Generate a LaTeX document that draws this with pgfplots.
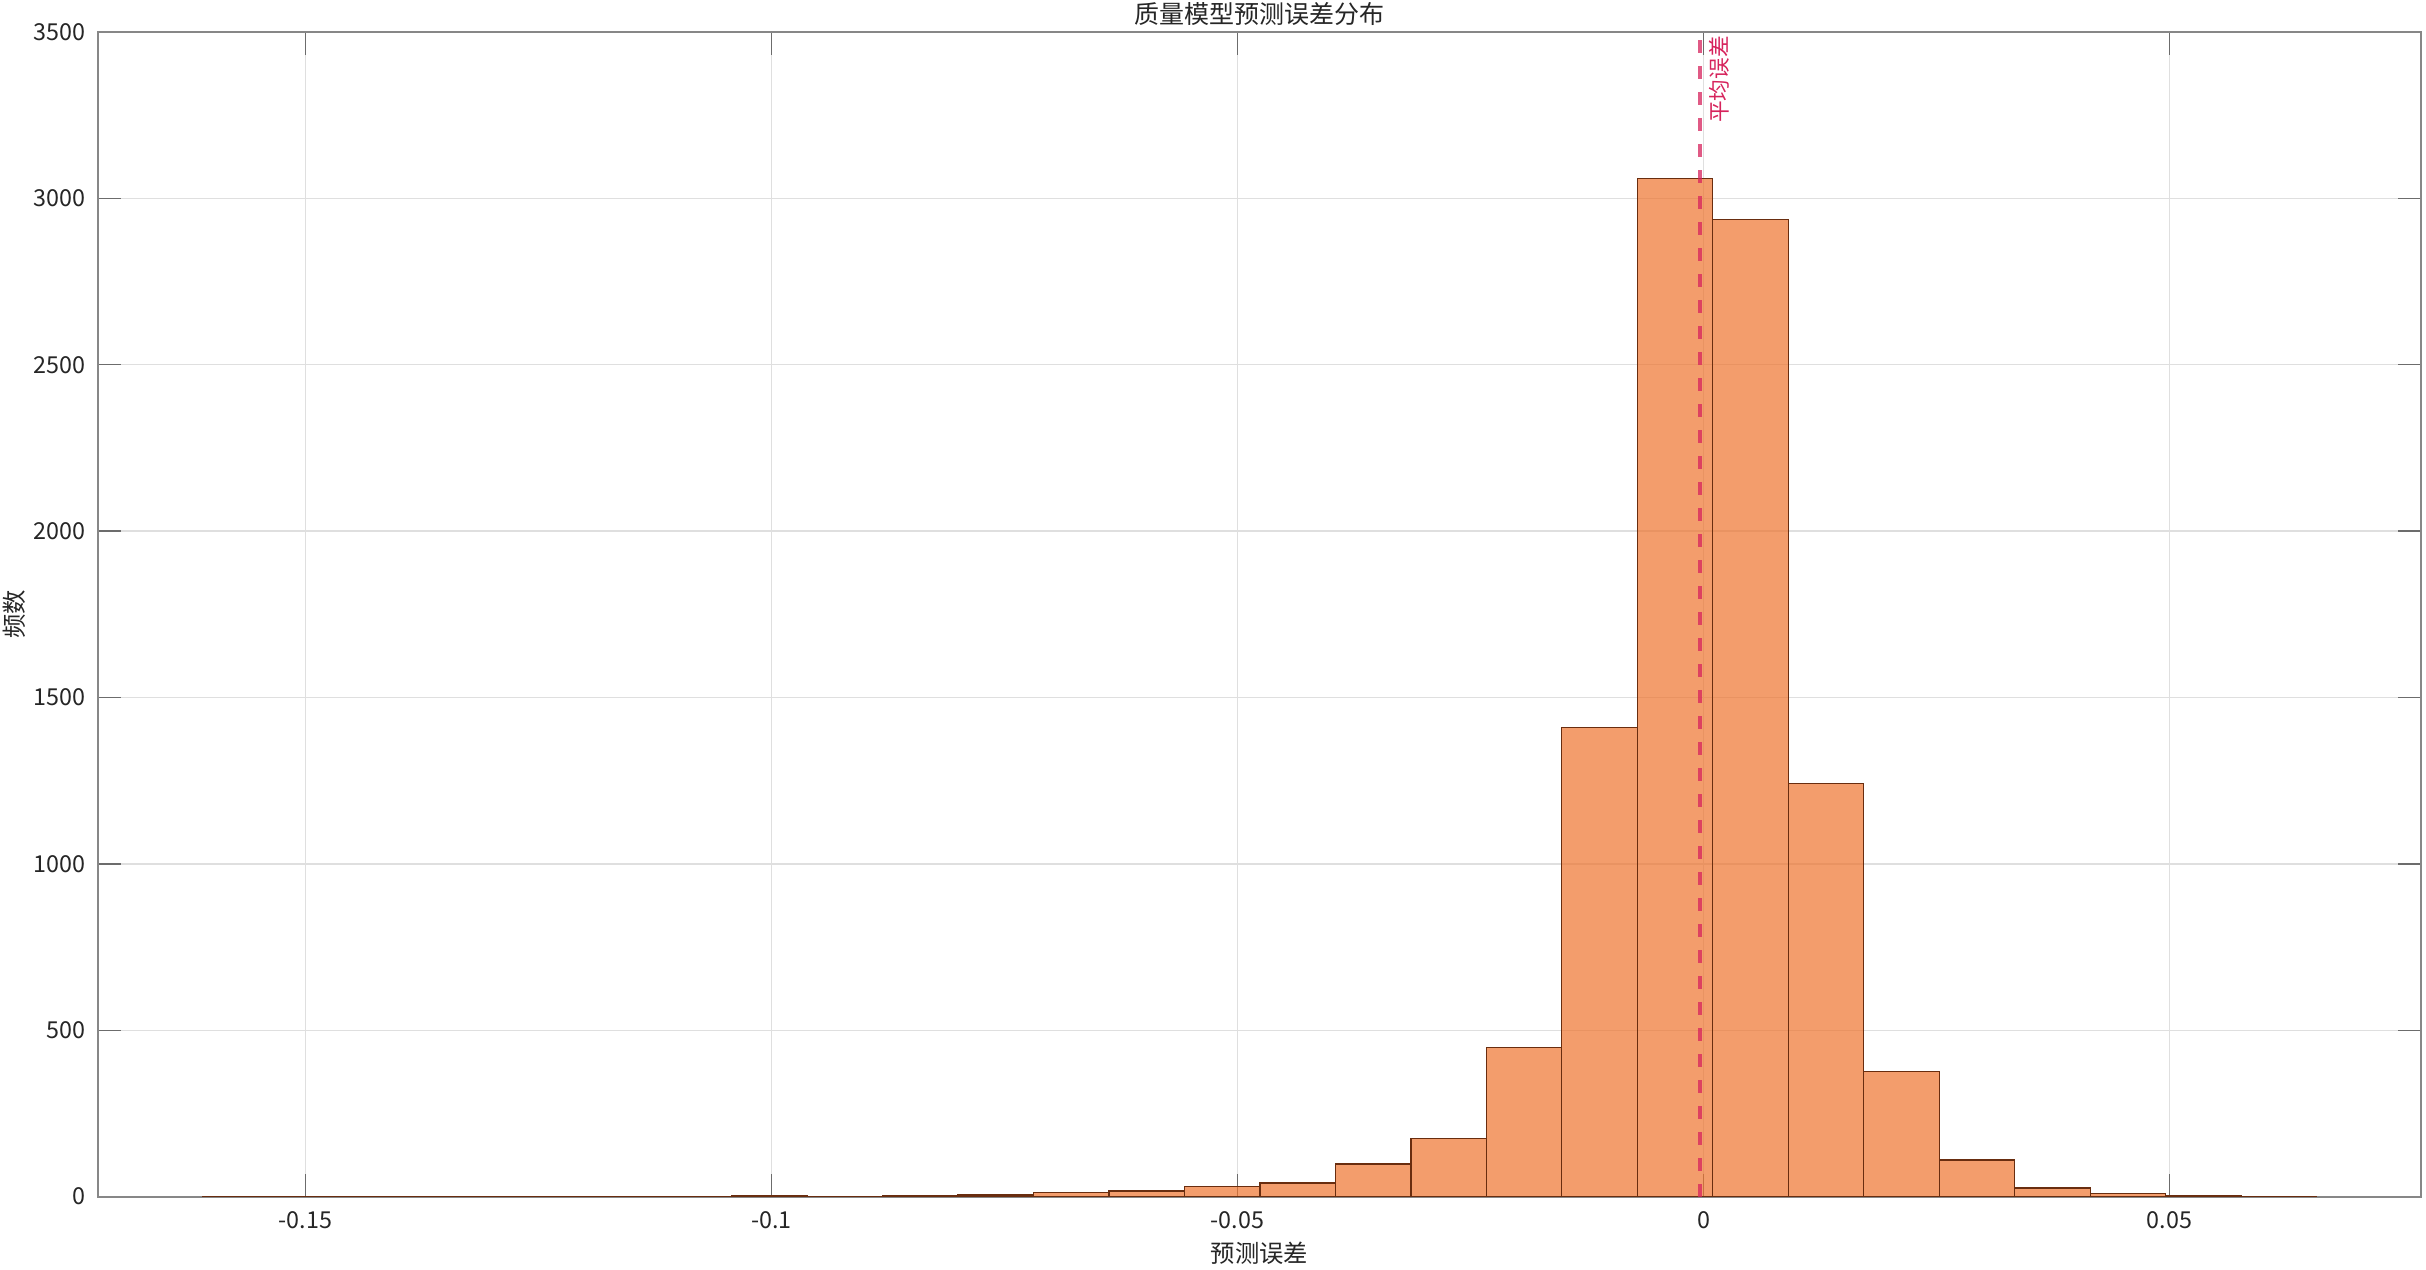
\documentclass[border=0pt]{standalone}
\usepackage{fontspec}
\setmainfont{Noto Sans CJK SC}
\usepackage{pgfplots}
\pgfplotsset{compat=1.18}

\definecolor{barfill}{RGB}{238,116,45}
\definecolor{baredge}{RGB}{105,45,15}
\definecolor{meanc}{RGB}{214,35,92}
\definecolor{gridc}{RGB}{223,223,223}
\definecolor{axisc}{RGB}{135,135,135}
\definecolor{textc}{RGB}{38,38,38}

\begin{document}
\begin{tikzpicture}
% page = reference canvas (1 px = 0.3pt)
\useasboundingbox (-29.4pt,-21.7pt) rectangle (698.4pt,359.0pt);

\begin{axis}[
    at={(0,0)}, anchor=south west,
    scale only axis,
    width=696.9pt, height=349.4pt,
    xmin=-0.17227, xmax=0.07698,
    ymin=0, ymax=3500,
    clip=false,
    axis line style={axisc, line width=0.6pt},
    tick align=inside,
    major tick length=6.9pt,
    tick style={axisc!80!black, line width=0.4pt},
    grid=major,
    major grid style={gridc, line width=0.4pt},
    xtick={-0.15,-0.1,-0.05,0,0.05},
    xticklabels={-0.15,-0.1,-0.05,0,0.05},
    ytick={0,500,1000,1500,2000,2500,3000,3500},
    yticklabels={0,500,1000,1500,2000,2500,3000,3500},
    ticklabel style={font=\fontsize{7}{8}\selectfont, text=textc},
    xticklabel style={yshift=-1pt},
    yticklabel style={xshift=-0.3pt},
    xlabel={预测误差},
    xlabel style={at={(axis description cs:0.5,0)}, anchor=center, yshift=-17.1pt,
                  font=\fontsize{7.3}{9}\selectfont, text=textc},
    ylabel={频数},
    ylabel style={at={(axis description cs:0,0.5)}, anchor=center, yshift=25.2pt,
                  font=\fontsize{7.3}{9}\selectfont, text=textc},
]

% histogram: bin left edges and counts (last point closes the final bin)
\addplot[ybar interval, fill=barfill, fill opacity=0.7, draw=baredge, line width=0.35pt]
coordinates {
    (-0.1610,1) (-0.1529,1) (-0.1448,0) (-0.1367,0) (-0.1286,1)
    (-0.1205,0) (-0.1124,0) (-0.1043,4) (-0.0962,1) (-0.0881,4)
    (-0.0800,5) (-0.0719,13) (-0.0638,17) (-0.0557,30) (-0.0476,41)
    (-0.0395,98) (-0.0314,174) (-0.0233,449) (-0.0152,1410) (-0.0071,3059)
    (0.0010,2936) (0.0091,1242) (0.0172,376) (0.0253,110) (0.0334,26)
    (0.0415,9) (0.0496,3) (0.0577,1) (0.0658,1)
};

% mean error
\addplot[meanc, opacity=0.75, line width=1.2pt, dash pattern=on 3.9pt off 3.9pt]
coordinates {(-0.0004,0) (-0.0004,3500)};
\node[rotate=90, anchor=north east, inner sep=1pt, text=meanc,
      font=\fontsize{6.5}{8}\selectfont]
    at (axis cs:-0.0004,3500) [yshift=-1.5pt] {平均误差};

% title
\node[anchor=center, text=textc, font=\fontsize{7.5}{9}\selectfont]
    at (rel axis cs:0.5,1) [yshift=5.4pt] {质量模型预测误差分布};

\end{axis}
\end{tikzpicture}
\end{document}
